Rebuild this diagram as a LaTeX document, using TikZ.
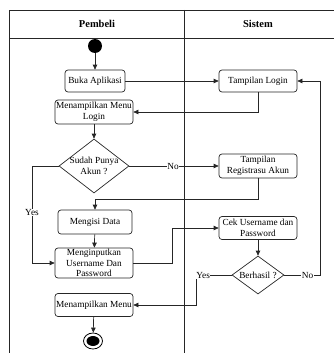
\documentclass[tikz,border=0pt]{standalone}
\usepackage{fontspec}
\setmainfont{Liberation Serif}
\usetikzlibrary{arrows.meta,shapes.geometric}
\begin{document}
\begin{tikzpicture}[x=1pt,y=-1pt,
  every node/.style={font=\fontsize{9.3}{10.6}\selectfont},
  lane/.style={draw=black!85,line width=0.7pt},
  act/.style={draw=black!85,line width=0.7pt,rounded corners=3pt,align=center,inner sep=0pt},
  dia/.style={draw=black!85,line width=0.7pt,shape=diamond,inner sep=0pt},
  txt/.style={align=center,inner sep=0pt},
  conn/.style={draw=black!85,line width=0.7pt,-{Triangle[length=5pt,width=4.5pt]}},
  lbl/.style={fill=white,inner sep=0.5pt},
  hdr/.style={font=\fontsize{10.5}{12}\selectfont\bfseries}
]
\useasboundingbox (0,0) rectangle (333,353);
% swimlane frame
\draw[lane] (9,353) -- (9,10) -- (334,10);
\draw[lane] (9,38) -- (334,38);
\draw[lane] (184,10) -- (184,353);
\node[hdr] (hp) at (97,24) {Pembeli};
\node[hdr] (hs) at (258,24) {Sistem};
% nodes
\node[circle,fill=black,minimum size=14pt,inner sep=0pt] (start) at (95,46) {};
\node[act,minimum width=60pt,minimum height=22pt] (buka) at (95,81) {Buka Aplikasi};
\node[act,minimum width=78pt,minimum height=22pt] (tlogin) at (258,81) {Tampilan Login};
\node[act,minimum width=78pt,minimum height=24pt] (mlogin) at (94,112) {Menampilkan Menu\\Login};
\node[dia,minimum width=70pt,minimum height=54pt] (d1) at (94,166) {};
\node[txt] (d1t) at (d1) {Sudah Punya\\Akun ?};
\node[act,minimum width=78pt,minimum height=24pt] (reg) at (258,166) {Tampilan\\Registrasu Akun};
\node[act,minimum width=74pt,minimum height=24pt] (isi) at (95,222) {Mengisi Data};
\node[act,minimum width=78pt,minimum height=30pt] (input) at (94,263) {Menginputkan\\Username Dan\\Password};
\node[act,minimum width=78pt,minimum height=23pt] (cek) at (258,228) {Cek Username dan\\Password};
\node[dia,minimum width=52pt,minimum height=38pt] (d2) at (258,275) {};
\node[txt] (d2t) at (d2) {Berhasil ?};
\node[act,minimum width=78pt,minimum height=23pt] (menu) at (94,305) {Menampilkan Menu};
\node[ellipse,draw=black,line width=0.8pt,minimum width=19pt,minimum height=16pt,inner sep=0pt] (end) at (93,341) {};
\node[ellipse,fill=black,minimum width=13pt,minimum height=10pt,inner sep=0pt] (endin) at (end) {};
% bend points
\coordinate (b1) at (258,199);
\coordinate (b2) at (32,166);
\coordinate (b3) at (172,263);
\coordinate (b4) at (196,275);
\coordinate (b5) at (320,275);
% connectors
\draw[conn] (start) -- (buka);
\draw[conn] (buka) -- (tlogin);
\draw[conn] (tlogin.south) |- (mlogin.east);
\draw[conn] (mlogin) -- (d1);
\draw[conn] (d1.east) -- node[lbl,pos=0.49] {No} (reg.west);
\draw[conn] (reg.south) -- (b1) -| (isi.north);
\draw[conn] (d1.west) -- (b2) |- node[lbl,pos=0.24] {Yes} (input.west);
\draw[conn] (isi) -- (input);
\draw[conn] (input.east) -- (b3) |- (cek.west);
\draw[conn] (cek) -- (d2);
\draw[conn] (d2.west) -- node[lbl,pos=0.8] {Yes} (b4) |- (menu.east);
\draw[conn] (d2.east) -- node[lbl,pos=0.65] {No} (b5) |- (tlogin.east);
\draw[conn] (menu) -- (end);
\end{tikzpicture}
\end{document}
